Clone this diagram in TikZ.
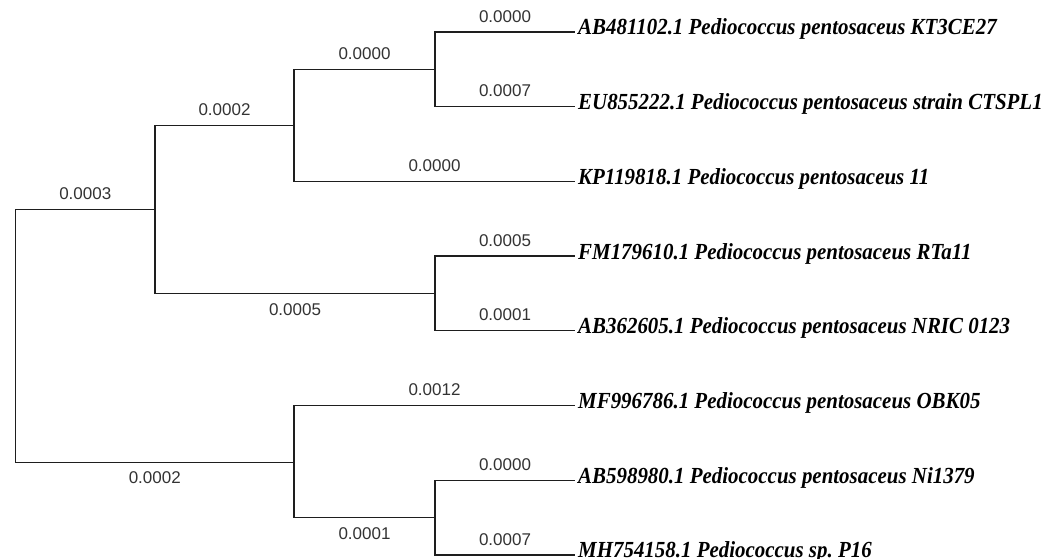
\documentclass[tikz,border=0pt]{standalone}
\usepackage{fontspec}
\setmainfont{Liberation Serif}
\newfontfamily\taxfont[FakeStretch=0.91]{Liberation Serif}
\newfontfamily\lenfont{Liberation Sans}
\definecolor{treeline}{HTML}{1E1E1E}
\definecolor{lentext}{HTML}{333333}
\begin{document}
\begin{tikzpicture}[x=1pt,y=-1pt,
  branch/.style={draw=treeline,line width=1.3pt},
  len/.style={font=\lenfont\fontsize{17}{19}\selectfont,text=lentext,inner sep=0pt},
  taxon/.style={anchor=base west,inner sep=0pt,font=\taxfont\bfseries\itshape\fontsize{23}{25}\selectfont}]
\useasboundingbox (0,0) rectangle (1057,559);

\coordinate (root) at (15.5,335.9);
\coordinate (nA) at (155,209.6);
\coordinate (nB) at (294,125.8);
\coordinate (nC) at (435,69.4);
\coordinate (nD) at (435,293.5);
\coordinate (nE) at (294,462.3);
\coordinate (nF) at (435,517.6);

\coordinate (e1) at (575,32);
\coordinate (e2) at (575,106.7);
\coordinate (e3) at (575,181.4);
\coordinate (e4) at (575,256.1);
\coordinate (e5) at (575,330.8);
\coordinate (e6) at (575,405.5);
\coordinate (e7) at (575,480.2);
\coordinate (e8) at (575,554.9);

\node[taxon] (t1) at (578,35) {AB481102.1 Pediococcus pentosaceus KT3CE27};
\node[taxon] (t2) at (578,109.7) {EU855222.1 Pediococcus pentosaceus strain CTSPL1};
\node[taxon] (t3) at (578,184.4) {KP119818.1 Pediococcus pentosaceus 11};
\node[taxon] (t4) at (578,259.1) {FM179610.1 Pediococcus pentosaceus RTa11};
\node[taxon] (t5) at (578,333.8) {AB362605.1 Pediococcus pentosaceus NRIC 0123};
\node[taxon] (t6) at (578,408.5) {MF996786.1 Pediococcus pentosaceus OBK05};
\node[taxon] (t7) at (578,483.2) {AB598980.1 Pediococcus pentosaceus Ni1379};
\node[taxon] (t8) at (578,557) {MH754158.1 Pediococcus sp.\ P16};

\draw[branch] (root) |- node[len,pos=0.75,above=9pt] (wA) {0.0003} (nA);
\draw[branch] (root) |- node[len,pos=0.75,below=9pt] (wE) {0.0002} (nE);
\draw[branch] (nA) |- node[len,pos=0.75,above=9pt] (wB) {0.0002} (nB);
\draw[branch] (nA) |- node[len,pos=0.75,below=9pt] (wD) {0.0005} (nD);
\draw[branch] (nB) |- node[len,pos=0.75,above=9pt] (wC) {0.0000} (nC);
\draw[branch] (nB) |- node[len,pos=0.75,above=9pt] (w3) {0.0000} (e3);
\draw[branch] (nC) |- node[len,pos=0.75,above=9pt] (w1) {0.0000} (e1);
\draw[branch] (nC) |- node[len,pos=0.75,above=9pt] (w2) {0.0007} (e2);
\draw[branch] (nD) |- node[len,pos=0.75,above=9pt] (w4) {0.0005} (e4);
\draw[branch] (nD) |- node[len,pos=0.75,above=9pt] (w5) {0.0001} (e5);
\draw[branch] (nE) |- node[len,pos=0.75,above=9pt] (w6) {0.0012} (e6);
\draw[branch] (nE) |- node[len,pos=0.75,below=9pt] (wF) {0.0001} (nF);
\draw[branch] (nF) |- node[len,pos=0.75,above=9pt] (w7) {0.0000} (e7);
\draw[branch] (nF) |- node[len,pos=0.75,above=9pt] (w8) {0.0007} (e8);
\end{tikzpicture}
\end{document}
